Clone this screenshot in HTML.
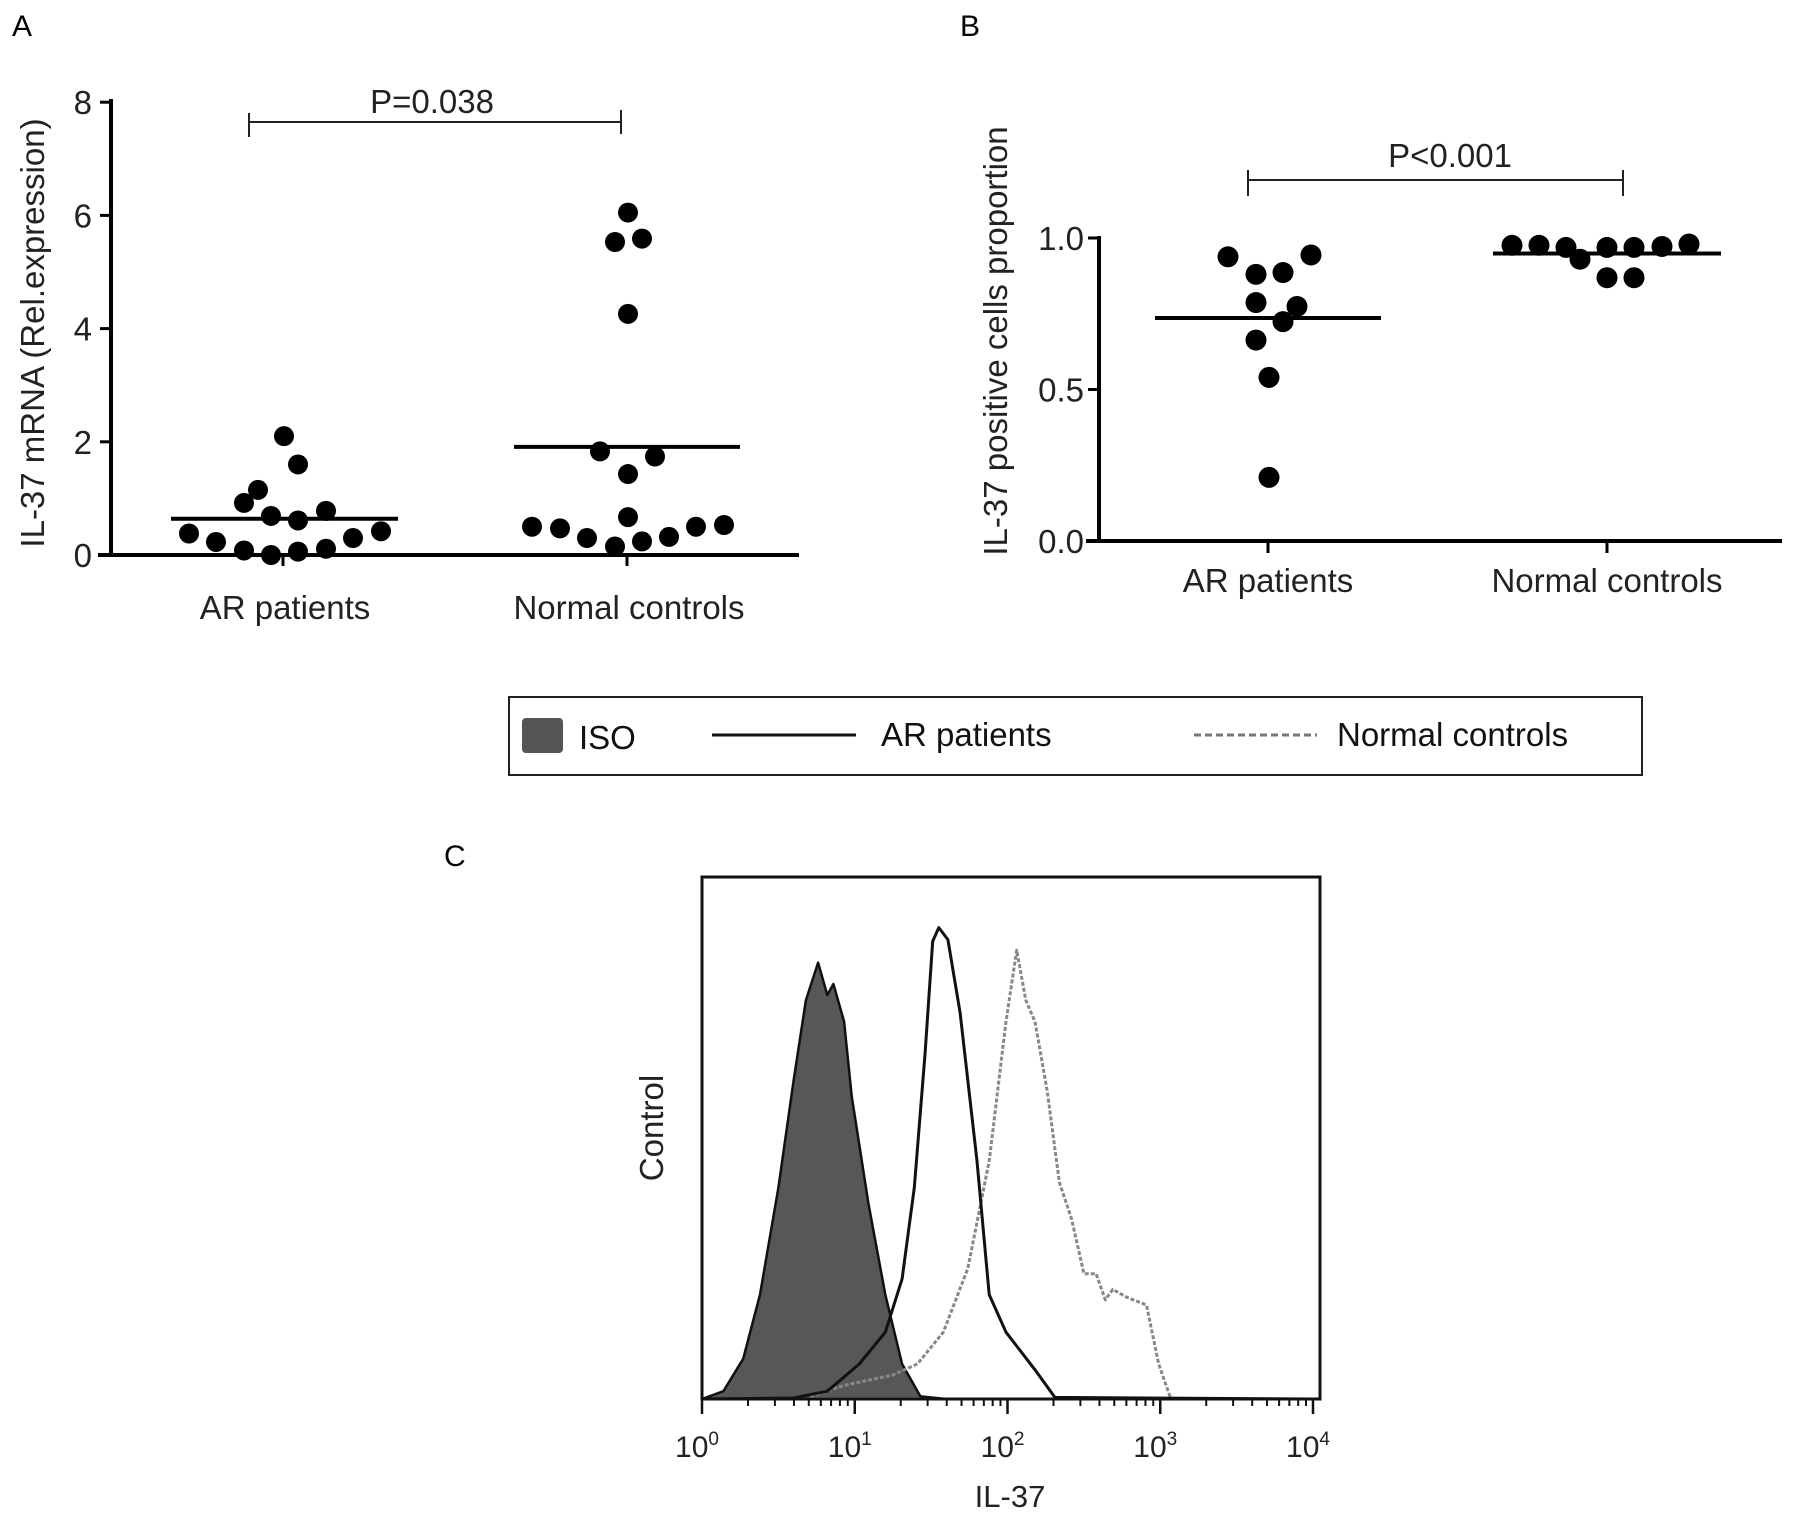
<!DOCTYPE html>
<html><head><meta charset="utf-8"><style>
html,body{margin:0;padding:0;background:#fff;}
svg{display:block;font-family:"Liberation Sans",Arial,sans-serif;}
</style></head><body>
<svg id="fig" width="1795" height="1519" viewBox="0 0 1795 1519">
<text x="12" y="36" font-size="30">A</text>
<text x="960" y="36" font-size="30">B</text>
<text x="444" y="866" font-size="30">C</text>
<g id="pa"></g>
<g id="pb"></g>
<g>
<rect x="509" y="697" width="1133" height="78" fill="none" stroke="#222" stroke-width="2"/>
<rect x="522" y="718" width="41" height="35" rx="4" fill="#555"/>
<text x="579" y="749" font-size="33" fill="#111">ISO</text>
<line x1="712" y1="735" x2="856" y2="735" stroke="#111" stroke-width="3"/>
<text x="881" y="746" font-size="33" fill="#111">AR patients</text>
<line x1="1194" y1="735" x2="1317" y2="735" stroke="#777" stroke-width="3" stroke-dasharray="7,4"/>
<text x="1337" y="746" font-size="33" fill="#111">Normal controls</text>
</g>
<g id="pc"></g>
</svg>
<script>
// ---------- Panel A data ----------
const aCategories = ["AR patients", "Normal controls"];
const aTicks = [0, 2, 4, 6, 8];
const aARValues = [0.38,0.23,0.08,0.92,1.15,0.0,0.69,2.1,1.6,0.61,0.06,0.78,0.11,0.3,0.42];
const aARJitter = [-94,-67,-39,-39,-25,-12,-12,1,15,15,15,43,43,70,98];
const aNCValues = [6.05,5.53,5.59,4.26,1.83,1.74,1.43,0.67,0.5,0.47,0.3,0.15,0.24,0.32,0.5,0.53];
const aNCJitter = [1,-12,15,1,-27,28,1,1,-95,-67,-40,-12,15,42,69,97];
const aMeans = [0.64, 1.91];
const aPText = "P=0.038";
// ---------- Panel B data ----------
const bCategories = ["AR patients", "Normal controls"];
const bTicks = [0.0, 0.5, 1.0];
const bARValues = [0.938,0.88,0.886,0.944,0.787,0.774,0.724,0.663,0.54,0.21];
const bARJitter = [-40,-12,15,43,-12,29,15,-12,1,1];
const bNCValues = [0.976,0.976,0.969,0.93,0.969,0.969,0.972,0.98,0.869,0.869];
const bNCJitter = [-95,-68,-41,-27,0,27,55,82,0,27];
const bMeans = [0.736, 0.949];
const bPText = "P<0.001";
// ---------- Panel C data (log10 IL-37, relative count) ----------
const cTickLabels = ["0","1","2","3","4"];
const isoX = [0,0.14,0.27,0.38,0.5,0.6,0.68,0.76,0.82,0.86,0.93,0.98,1.09,1.2,1.31,1.43,1.6,4];
const isoY = [0,1.5,7.7,20,40.5,61,76.4,83.6,77.4,79.5,72.3,58,37.4,20,6.7,0.5,0,0];
const arX = [0,0.6,0.82,1.03,1.2,1.31,1.39,1.46,1.51,1.55,1.61,1.69,1.8,1.88,1.99,2.18,2.31,4];
const arY = [0,0.2,1.5,6.7,12.8,23,40.5,66,87.7,90.3,88,74,45.6,20,12.8,5.6,0.3,0];
const ncX = [0.71,0.93,1.25,1.41,1.58,1.74,1.88,1.99,2.06,2.12,2.18,2.26,2.34,2.42,2.5,2.58,2.64,2.69,2.78,2.91,2.99,3.07];
const ncY = [0.5,2.6,4.6,6.7,12.8,25,45.6,72.3,86,76.4,72.3,59,41.5,34.4,24,24,19,21,19.5,18,6.7,0];

const NS="http://www.w3.org/2000/svg";
function mk(parent, tag, attrs, text){
  const e=document.createElementNS(NS,tag);
  for(const k in attrs) e.setAttribute(k,attrs[k]);
  if(text!==undefined) e.textContent=text;
  parent.appendChild(e); return e;
}

// ===== Panel A =====
(function(){
  const g=document.getElementById('pa');
  const y=v=>555-v*56.6;
  const cx=[283,627];
  const ax=mk(g,'line',{x1:111,y1:99,x2:111,y2:557,stroke:'#000','stroke-width':4});
  
  
  const bx=mk(g,'line',{x1:98,y1:555,x2:799,y2:555,stroke:'#000','stroke-width':4});
  
  
  aTicks.forEach(t=>{
    const tl=mk(g,'line',{x1:100,y1:y(t),x2:111,y2:y(t),stroke:'#000','stroke-width':3});
    
    
    const tx=mk(g,'text',{x:92,y:y(t)+12,'font-size':33,'text-anchor':'end',fill:'#222'},String(t));
    
    
  });
  aCategories.forEach((c,i)=>{
    const tk=mk(g,'line',{x1:cx[i],y1:555,x2:cx[i],y2:566,stroke:'#000','stroke-width':3});
    
    
    const tx=mk(g,'text',{x:cx[i]+2,y:619,'font-size':33,'text-anchor':'middle',fill:'#222'},c);
    
    
  });
  const yt=mk(g,'text',{x:0,y:0,'font-size':33,'text-anchor':'middle',fill:'#222',transform:'translate(44,333) rotate(-90)'},'IL-37 mRNA (Rel.expression)');
  
  
  [[aARValues,aARJitter,0],[aNCValues,aNCJitter,1]].forEach(([vals,jit,i])=>{
    vals.forEach((v,k)=>{
      const d=mk(g,'circle',{cx:cx[i]+jit[k],cy:y(v),r:10,fill:'#000'});
      
      
    });
  });
  const meanHalf=[[112,115],[113,113]];
  aMeans.forEach((m,i)=>{
    const l=mk(g,'line',{x1:cx[i]-meanHalf[i][0],y1:y(m),x2:cx[i]+meanHalf[i][1],y2:y(m),stroke:'#000','stroke-width':4});
    
    
  });
  const br=mk(g,'path',{d:'M249,113 V137 M249,122 H621 M621,110 V134',stroke:'#222','stroke-width':2,fill:'none'});
  
  
  const pt=mk(g,'text',{x:432,y:113,'font-size':33,'text-anchor':'middle',fill:'#222'},aPText);
  
  
})();

// ===== Panel B =====
(function(){
  const g=document.getElementById('pb');
  const y=v=>541-v*303;
  const cx=[1268,1607];
  const ax=mk(g,'line',{x1:1099,y1:236,x2:1099,y2:543,stroke:'#000','stroke-width':4});
  
  
  const bx=mk(g,'line',{x1:1086,y1:541,x2:1782,y2:541,stroke:'#000','stroke-width':4});
  
  
  bTicks.forEach(t=>{
    const tl=mk(g,'line',{x1:1088,y1:y(t),x2:1099,y2:y(t),stroke:'#000','stroke-width':3});
    
    
    const tx=mk(g,'text',{x:1084,y:y(t)+12,'font-size':33,'text-anchor':'end',fill:'#222'},t.toFixed(1));
    
    
  });
  bCategories.forEach((c,i)=>{
    const tk=mk(g,'line',{x1:cx[i],y1:541,x2:cx[i],y2:553,stroke:'#000','stroke-width':3});
    
    
    const tx=mk(g,'text',{x:cx[i],y:592,'font-size':33,'text-anchor':'middle',fill:'#222'},c);
    
    
  });
  const yt=mk(g,'text',{x:0,y:0,'font-size':33,'text-anchor':'middle',fill:'#222',transform:'translate(1007,341) rotate(-90)'},'IL-37 positive cells proportion');
  
  
  [[bARValues,bARJitter,0],[bNCValues,bNCJitter,1]].forEach(([vals,jit,i])=>{
    vals.forEach((v,k)=>{
      const d=mk(g,'circle',{cx:cx[i]+jit[k],cy:y(v),r:10.5,fill:'#000'});
      
      
    });
  });
  const meanHalf=[[113,113],[114,114]];
  bMeans.forEach((m,i)=>{
    const l=mk(g,'line',{x1:cx[i]-meanHalf[i][0],y1:y(m),x2:cx[i]+meanHalf[i][1],y2:y(m),stroke:'#000','stroke-width':4});
    
    
  });
  const br=mk(g,'path',{d:'M1248,170 V196 M1248,180 H1623 M1623,170 V196',stroke:'#222','stroke-width':2,fill:'none'});
  
  
  const pt=mk(g,'text',{x:1450,y:167,'font-size':33,'text-anchor':'middle',fill:'#222'},bPText);
  
  
})();

// ===== Panel C =====
(function(){
  const g=document.getElementById('pc');
  const x=v=>702+v*152.75;
  const y=v=>1399-v*5.22;
  const box=mk(g,'rect',{x:702,y:877,width:618,height:522,fill:'none',stroke:'#111','stroke-width':3});
  
  
  const pts=(xs,ys)=>xs.map((v,i)=>x(v).toFixed(1)+','+y(ys[i]).toFixed(1)).join(' ');
  const iso=mk(g,'polygon',{points:pts(isoX,isoY),fill:'#575757',stroke:'#111','stroke-width':2.5,'stroke-linejoin':'round'});
  
  
  const nc=mk(g,'polyline',{points:pts(ncX,ncY),fill:'none',stroke:'#888','stroke-width':3,'stroke-dasharray':'4,2','stroke-linejoin':'round'});
  
  
  const ar=mk(g,'polyline',{points:pts(arX,arY),fill:'none',stroke:'#111','stroke-width':3,'stroke-linejoin':'round'});
  
  
  for(let d=0; d<4; d++){
    for(let m=2;m<=9;m++){
      const lx=x(d+Math.log10(m));
      const t=mk(g,'line',{x1:lx,y1:1399,x2:lx,y2:1406,stroke:'#111','stroke-width':2});
      
      
    }
  }
  cTickLabels.forEach((lab,i)=>{
    const t=mk(g,'line',{x1:x(i),y1:1399,x2:x(i),y2:1414,stroke:'#111','stroke-width':2.5});
    
    
    const tx=mk(g,'text',{x:x(i)-5,y:1457,'font-size':30,'text-anchor':'middle',fill:'#222'});
    
    
    tx.appendChild(document.createTextNode('10'));
    const sp=document.createElementNS(NS,'tspan');
    sp.setAttribute('dy','-12'); sp.setAttribute('font-size','19');
    sp.textContent=lab; tx.appendChild(sp);
  });
  const xt=mk(g,'text',{x:1010,y:1507,'font-size':31,'text-anchor':'middle',fill:'#222'},'IL-37');
  
  
  const yt=mk(g,'text',{x:0,y:0,'font-size':33,'text-anchor':'middle',fill:'#222',transform:'translate(663,1128) rotate(-90)'},'Control');
  
  
})();
</script>
</body></html>
